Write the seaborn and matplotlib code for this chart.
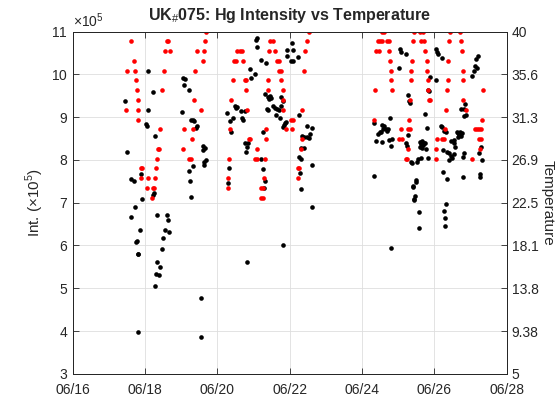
import numpy as np
import pandas as pd
import seaborn as sns
import matplotlib
matplotlib.use('Agg')
import matplotlib.pyplot as plt
import matplotlib.dates as mdates
from matplotlib.ticker import ScalarFormatter

sns.set_style('ticks')
plt.rcParams['font.family'] = ['Liberation Sans', 'DejaVu Sans']
plt.rcParams['mathtext.fontset'] = 'custom'
plt.rcParams['mathtext.rm'] = 'Liberation Sans'
plt.rcParams['mathtext.bf'] = 'Liberation Sans:bold'

# intensity (x1e5), time as day of June
int_day = [
    # 06/17 - 06/19
    18.07, 19.06, 19.10, 19.08, 19.21, 18.22, 17.45, 18.09, 19.03, 19.27,
    19.32, 19.34, 19.43, 19.41, 18.02, 18.04, 18.26, 17.49, 19.61, 19.66,
    19.59, 19.67, 19.63, 19.62, 19.32, 19.21, 17.89, 17.60, 17.68, 19.24,
    18.25, 18.22, 19.28, 17.91, 17.71, 17.60, 18.34, 18.60, 18.63, 17.87,
    18.55, 18.67, 17.77, 17.75, 18.50, 18.47, 17.81, 17.79, 18.32, 18.42,
    18.30, 18.38, 18.28, 19.54, 17.80, 19.54,
    # 06/20 - 06/22
    21.08, 21.06, 21.08, 22.05, 21.91, 22.08, 21.91, 22.22, 22.02, 22.08,
    21.21, 21.33, 20.90, 21.04, 20.92, 21.32, 21.39, 21.45, 21.42, 21.49,
    21.77, 21.80, 21.54, 21.60, 21.65, 21.70, 21.76, 21.36, 21.39, 20.48,
    20.51, 20.55, 20.64, 20.75, 20.27, 20.44, 20.35, 20.67, 20.70, 21.62,
    21.74, 21.86, 21.83, 21.80, 21.89, 22.25, 20.38, 21.26, 22.47, 22.60,
    22.55, 22.52, 22.34, 22.40, 22.47, 20.75, 20.85, 20.81, 20.79, 22.30,
    22.38, 21.21, 22.25, 22.31, 22.62, 20.32, 21.25, 22.29, 20.29, 21.31,
    21.28, 22.31, 22.62, 21.82, 20.81,
    # 06/24 - 06/27
    25.05, 25.08, 25.21, 26.04, 26.07, 26.10, 26.22, 27.19, 27.15, 27.12,
    27.18, 27.10, 27.04, 25.03, 25.88, 26.03, 25.83, 25.86, 25.27, 25.30,
    25.31, 26.85, 26.81, 26.86, 26.83, 26.72, 25.73, 24.77, 24.34, 25.80,
    26.20, 24.56, 24.60, 24.65, 24.58, 24.71, 24.50, 24.45, 24.53, 24.68,
    24.38, 24.54, 24.74, 24.82, 24.80, 25.26, 25.22, 25.25, 25.60, 25.66,
    25.71, 25.63, 25.69, 25.74, 25.60, 25.66, 25.77, 25.55, 25.52, 25.63,
    25.81, 25.34, 25.37, 26.19, 26.26, 26.33, 26.47, 26.53, 26.58, 26.23,
    26.35, 26.64, 26.69, 26.73, 26.66, 26.61, 26.75, 26.71, 26.55, 26.41,
    26.46, 26.49, 26.40, 26.55, 26.82, 26.79, 27.31, 27.24, 27.28, 24.33,
    26.24, 26.34, 26.80, 27.27, 27.25, 25.50, 25.48, 25.40, 25.42, 25.46,
    25.43, 25.44, 26.32, 25.57, 25.58, 24.80, 26.26, 26.30, 26.28,
]
int_val = [
    10.07, 9.91, 9.89, 9.76, 9.63, 9.58, 9.38, 9.16, 9.13, 8.94,
    8.92, 8.90, 8.80, 8.74, 8.84, 8.78, 8.55, 8.18, 8.32, 8.28,
    8.23, 7.99, 7.94, 7.89, 7.86, 7.73, 7.67, 7.55, 7.50, 7.51,
    7.22, 7.19, 7.14, 7.08, 6.91, 6.66, 6.72, 6.70, 6.59, 6.36,
    6.37, 6.31, 6.11, 6.09, 6.17, 5.92, 5.80, 5.79, 5.61, 5.50,
    5.33, 5.32, 5.06, 4.78, 3.98, 3.86,
    10.85, 10.79, 10.64, 10.73, 10.57, 10.57, 10.43, 10.41, 10.30, 10.30,
    10.33, 10.26, 10.12, 10.01, 9.92, 9.55, 9.46, 9.49, 9.43, 9.44,
    9.47, 9.38, 9.27, 9.22, 9.19, 9.17, 9.27, 9.19, 9.17, 9.27,
    9.21, 9.23, 9.15, 9.15, 9.10, 8.98, 8.91, 8.99, 8.92, 9.04,
    8.97, 8.85, 8.81, 8.76, 8.88, 9.06, 8.65, 8.64, 8.80, 8.75,
    8.61, 8.50, 8.55, 8.53, 8.53, 8.39, 8.39, 8.30, 8.19, 8.27,
    8.27, 8.01, 8.07, 8.01, 7.88, 7.81, 7.78, 7.69, 7.47, 7.51,
    7.34, 7.31, 6.91, 6.01, 5.61,
    10.58, 10.52, 10.48, 10.60, 10.52, 10.47, 10.38, 10.43, 10.36, 10.19,
    10.15, 10.07, 9.97, 10.15, 9.93, 9.87, 9.64, 9.62, 9.52, 9.38,
    9.34, 9.31, 9.19, 9.04, 9.02, 9.18, 9.07, 8.99, 8.87, 8.74,
    8.77, 8.82, 8.79, 8.73, 8.71, 8.71, 8.64, 8.60, 8.66, 8.68,
    8.45, 8.42, 8.46, 8.48, 8.33, 8.57, 8.39, 8.32, 8.42, 8.45,
    8.40, 8.36, 8.35, 8.39, 8.31, 8.27, 8.25, 8.01, 7.96, 8.04,
    8.04, 7.95, 7.92, 8.78, 8.67, 8.64, 8.44, 8.39, 8.31, 8.23,
    8.18, 8.62, 8.58, 8.56, 8.54, 8.66, 8.62, 8.64, 8.46, 8.15,
    8.09, 8.04, 8.00, 8.14, 8.15, 8.07, 8.00, 8.15, 8.31, 7.63,
    7.71, 7.56, 7.59, 7.67, 7.59, 7.53, 7.48, 7.39, 7.36, 7.16,
    7.06, 7.08, 6.98, 6.78, 6.41, 5.95, 6.81, 6.63, 6.45,
]

# temperature, time as day of June
temp_day = [
    17.60, 18.60, 18.64, 19.66, 19.68, 18.55, 18.68, 19.43, 19.63, 17.68,
    19.60, 17.49, 17.72, 18.51, 19.39, 17.76, 17.78, 18.47, 17.79, 19.34,
    17.46, 17.80, 19.54, 17.81, 18.42, 19.07, 19.32, 19.30, 18.35, 18.38,
    19.04, 18.32, 19.20, 19.27, 17.88, 17.92, 18.29, 17.89, 18.09, 18.26,
    18.04, 18.21, 18.24, 18.20,
    22.53, 21.46, 21.54, 22.47, 20.55, 20.62, 20.69, 21.42, 21.60, 22.43,
    20.47, 20.51, 20.71, 21.64, 21.70, 21.70, 21.77, 22.38, 20.42, 20.76,
    20.80, 21.39, 21.77, 20.79, 21.39, 21.80, 20.38, 21.82, 20.82, 21.82,
    22.34, 22.04, 22.08, 20.34, 21.35, 21.90, 22.05, 20.87, 20.90, 21.34,
    22.35, 21.08, 22.30, 20.32, 21.03, 21.08, 21.32, 22.22, 22.26, 20.30,
    21.28, 22.23, 20.28, 21.20, 21.27, 21.21, 21.25,
    24.54, 24.60, 25.44, 25.60, 25.67, 26.44, 26.71, 24.43, 24.49, 24.54,
    24.68, 24.73, 25.41, 25.62, 25.72, 26.40, 26.73, 24.37, 24.47, 24.75,
    25.75, 26.75, 24.77, 25.38, 25.79, 26.37, 24.80, 25.36, 25.79, 26.78,
    24.81, 25.34, 25.81, 26.37, 26.79, 24.35, 24.82, 25.83, 26.34, 27.34,
    25.32, 25.84, 25.88, 26.80, 26.32, 26.87, 24.33, 25.30, 27.32, 25.07,
    25.27, 25.31, 26.29, 27.12, 27.17, 27.24, 27.29, 25.03, 25.09, 26.08,
    26.20, 26.26, 27.24, 27.28, 25.26, 26.04, 27.26, 25.20, 25.24, 26.03,
    27.04,
]
temp_val = [
    39, 39, 39, 39, 40, 38, 38, 38, 38, 37,
    37, 36, 36, 36, 36, 35, 34, 34, 33, 33,
    32, 32, 32, 31, 30, 30, 30, 29, 28, 28,
    28, 27, 27, 27, 26, 26, 26, 25, 25, 25,
    24, 24, 24, 23,
    40, 39, 39, 39, 38, 38, 38, 38, 38, 38,
    37, 37, 37, 37, 37, 36, 36, 36, 35, 35,
    35, 35, 35, 34, 34, 34, 33, 33, 32, 32,
    32, 31, 31, 30, 30, 30, 30, 29, 29, 29,
    29, 28, 28, 27, 27, 27, 27, 26, 26, 25,
    25, 25, 24, 24, 24, 23, 23,
    40, 40, 40, 40, 40, 40, 40, 39, 39, 39,
    39, 39, 39, 39, 39, 39, 39, 38, 38, 38,
    38, 38, 37, 37, 37, 37, 36, 36, 36, 36,
    35, 35, 35, 35, 35, 34, 34, 34, 34, 34,
    33, 33, 33, 33, 32, 32, 31, 31, 31, 30,
    30, 30, 30, 30, 30, 30, 30, 29, 29, 29,
    29, 29, 29, 29, 28, 28, 28, 27, 27, 27,
    27,
]

temp_ticks = [5, 9.375, 13.75, 18.125, 22.5, 26.875, 31.25, 35.625, 40]
temp_labels = ['5', '9.38', '13.8', '18.1', '22.5', '26.9', '31.3', '35.6', '40']
date_ticks = [16, 18, 20, 22, 24, 26, 28]

t0 = pd.Timestamp('2023-06-01')
def to_time(days):
    return t0 + pd.to_timedelta(np.array(days, dtype=float) - 1, unit='D')

df_int = pd.DataFrame({'time': to_time(int_day), 'int': np.array(int_val) * 1e5})
df_temp = pd.DataFrame({'time': to_time(temp_day), 'temp': temp_val})

dark = '#262626'
fig = plt.figure(figsize=(5.6, 4.2), dpi=100)
ax = fig.add_axes([0.13, 0.11, 0.775, 0.815])
sns.scatterplot(data=df_int, x='time', y='int', color='k', s=11, linewidth=0, ax=ax)
ax2 = ax.twinx()
sns.scatterplot(data=df_temp, x='time', y='temp', color='r', s=11, linewidth=0, ax=ax2)

ax.set_xlim(to_time([16])[0], to_time([28])[0])
ax.set_xticks(to_time(date_ticks))
ax.xaxis.set_major_formatter(mdates.DateFormatter('%m/%d'))
ax.set_ylim(3e5, 11e5)
ax.set_yticks(np.arange(3, 12) * 1e5)
fmt = ScalarFormatter(useMathText=True)
fmt.set_powerlimits((5, 5))
ax.yaxis.set_major_formatter(fmt)
ax.yaxis.get_offset_text().set_fontsize(10)
ax.yaxis.get_offset_text().set_color(dark)

ax2.set_ylim(5, 40)
ax2.set_yticks(temp_ticks)
ax2.set_yticklabels(temp_labels)

ax.grid(True, color='#dedede', linewidth=0.6)
ax.set_axisbelow(True)
ax.tick_params(axis='x', direction='in', top=True, length=4, width=0.6, colors=dark, labelsize=10, pad=6.5)
ax.tick_params(axis='y', direction='in', right=False, length=4, width=0.6, colors=dark, labelsize=10)
ax2.tick_params(axis='y', direction='in', length=4, width=0.6, colors=dark, labelsize=10)
for a in (ax, ax2):
    for sp in a.spines.values():
        sp.set_visible(True)
        sp.set_color(dark)
        sp.set_linewidth(0.7)

ax.set_xlabel('')
ax.set_ylabel('Int. ($\\times10^5$)', fontsize=11, color=dark)
ax2.set_ylabel('Temperature', fontsize=11, color=dark, rotation=270, labelpad=11)
ax.set_title('UK$_\\#$075: Hg Intensity vs Temperature', fontsize=11.5, fontweight='bold', pad=8)

fig.savefig('out.png', dpi=100)
